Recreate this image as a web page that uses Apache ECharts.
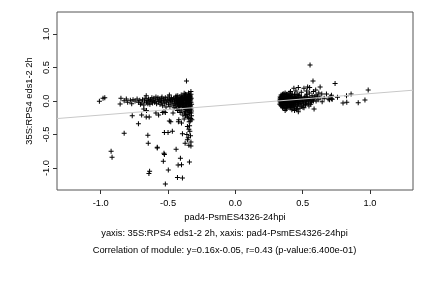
<!DOCTYPE html>
<html><head><meta charset="utf-8">
<script src="https://cdn.jsdelivr.net/npm/echarts@6/dist/echarts.min.js"></script>
<style>html,body{margin:0;padding:0;background:#fff}#c{width:432px;height:288px}</style>
</head><body><div id="c"></div>
<script>
// x/y pairs
const leftSparse = [[-1.01,-0.005],[-0.983,0.04],[-0.97,0.05],[-0.85,0.04],[-0.856,-0.045],[-0.826,0.005],[-0.81,0.03],[-0.80,-0.02],[-0.78,0.01],[-0.77,-0.04],[-0.766,-0.22],[-0.72,-0.34],[-0.696,-0.21],[-0.662,-0.24],[-0.64,-0.24],[-0.66,-0.14],[-0.68,-0.12],[-0.57,-0.21],[-0.826,-0.48],[-0.65,-0.51],[-0.647,-0.63],[-0.58,-0.69],[-0.923,-0.75],[-0.916,-0.84],[-0.637,-1.05],[-0.642,-1.08],[-0.527,-0.80],[-0.535,-0.90],[-0.498,-1.03],[-0.52,-1.24],[-0.43,-1.14],[-0.393,-1.15],[-0.527,-0.47],[-0.50,-0.47],[-0.468,-0.45],[-0.49,-0.30],[-0.44,-0.72],[-0.408,-0.855],[-0.425,-0.955],[-0.40,-0.95],[-0.341,-0.91],[-0.393,-0.49],[-0.338,-0.45],[-0.33,-0.61],[-0.373,-0.63],[-0.356,-0.58],[-0.33,-0.67],[-0.345,-0.66],[-0.423,-0.31],[-0.40,-0.33],[-0.38,-0.27],[-0.343,-0.31],[-0.323,-0.28],[-0.356,-0.38],[-0.345,-0.42],[-0.37,-0.22],[-0.463,-0.18],[-0.54,-0.17],[-0.52,-0.17],[-0.363,0.30],[-0.662,0.08],[-0.33,0.14],[-0.38,0.115],[-0.49,0.09],[-0.44,0.075],[-0.59,-0.18],[-0.53,-0.16],[-0.48,-0.31],[-0.42,-0.28],[-0.34,-0.37],[-0.36,-0.5],[-0.35,-0.55],[-0.333,-0.52],[-0.53,-0.78],[-0.58,-0.70]];
const leftDense = [[-0.76,0.02],[-0.745,0.0],[-0.73,0.03],[-0.72,-0.02],[-0.71,0.01],[-0.705,-0.05],[-0.695,-0.03],[-0.69,0.02],[-0.68,-0.06],[-0.675,0.0],[-0.67,0.04],[-0.66,-0.02],[-0.655,0.01],[-0.65,-0.04],[-0.645,0.03],[-0.64,0.0],[-0.635,-0.05],[-0.63,0.02],[-0.625,-0.01],[-0.62,0.05],[-0.615,-0.03],[-0.61,0.01],[-0.605,0.04],[-0.60,-0.02],[-0.595,0.0],[-0.59,0.06],[-0.585,-0.04],[-0.58,0.02],[-0.575,0.05],[-0.57,-0.01],[-0.565,0.03],[-0.56,-0.05],[-0.555,0.0],[-0.55,0.04],[-0.548,-0.02],[-0.545,0.06],[-0.54,-0.07],[-0.535,0.01],[-0.53,0.03],[-0.528,-0.04],[-0.522,0.0],[-0.52,0.05],[-0.515,-0.09],[-0.51,-0.02],[-0.506,0.02],[-0.50,0.06],[-0.497,-0.05],[-0.493,0.0],[-0.49,0.03],[-0.486,-0.08],[-0.482,0.01],[-0.478,-0.03],[-0.475,0.05],[-0.47,-0.01],[-0.466,0.02],[-0.462,-0.06],[-0.458,0.04],[-0.455,-0.1],[-0.452,0.0],[-0.45,-0.04],[-0.448,0.03],[-0.446,-0.07],[-0.443,0.06],[-0.44,-0.02],[-0.438,-0.11],[-0.435,0.01],[-0.432,0.05],[-0.43,-0.05],[-0.428,0.08],[-0.425,-0.01],[-0.422,-0.09],[-0.42,0.03],[-0.418,-0.13],[-0.415,0.0],[-0.412,0.06],[-0.41,-0.04],[-0.408,0.02],[-0.405,-0.07],[-0.402,0.09],[-0.40,-0.01],[-0.398,-0.15],[-0.395,0.04],[-0.393,-0.03],[-0.39,0.07],[-0.388,-0.1],[-0.385,0.0],[-0.383,-0.06],[-0.38,0.03],[-0.378,-0.18],[-0.376,0.05],[-0.374,-0.02],[-0.372,-0.12],[-0.37,0.1],[-0.368,0.01],[-0.366,-0.08],[-0.364,0.04],[-0.362,-0.04],[-0.36,-0.2],[-0.358,0.07],[-0.356,-0.01],[-0.354,-0.14],[-0.352,0.02],[-0.35,-0.06],[-0.348,0.12],[-0.346,0.0],[-0.344,-0.1],[-0.342,0.05],[-0.34,-0.03],[-0.338,-0.17],[-0.336,0.08],[-0.334,-0.07],[-0.332,0.02],[-0.33,-0.12],[-0.328,0.04],[-0.326,-0.22],[-0.325,-0.05],[-0.347,-0.25],[-0.335,-0.3],[-0.355,-0.24],[-0.342,-0.19],[-0.37,-0.16],[-0.39,-0.21],[-0.41,-0.17],[-0.43,-0.14],[-0.36,0.09],[-0.35,0.05],[-0.34,0.07],[-0.33,0.1],[-0.39,0.02],[-0.40,0.05],[-0.42,-0.06],[-0.44,0.0],[-0.365,-0.03],[-0.355,0.03],[-0.345,-0.02],[-0.335,0.0],[-0.375,0.01],[-0.385,-0.03],[-0.395,-0.05],[-0.405,0.0],[-0.415,-0.08]];
const leftCore = [[-0.33,-0.02],[-0.332,-0.09],[-0.336,0.04],[-0.339,-0.05],[-0.343,0.01],[-0.347,-0.08],[-0.351,0.06],[-0.353,-0.03],[-0.357,-0.11],[-0.361,0.02],[-0.363,-0.07],[-0.367,0.05],[-0.371,-0.05],[-0.373,0.03],[-0.377,-0.1],[-0.381,0.06],[-0.384,-0.04],[-0.387,0.01],[-0.391,-0.08],[-0.394,0.03],[-0.397,-0.02],[-0.401,0.02],[-0.404,-0.05],[-0.409,0.04],[-0.413,-0.02],[-0.417,0.02],[-0.421,-0.04],[-0.427,0.01],[-0.433,-0.03],[-0.437,0.03],[-0.327,-0.15],[-0.329,-0.18],[-0.331,-0.26],[-0.333,0.06],[-0.337,-0.13],[-0.341,0.09],[-0.349,-0.15],[-0.359,-0.13],[-0.369,-0.12],[-0.379,0.08]];
const rightSparse = [[0.555,0.537],[0.577,0.30],[0.741,0.26],[0.987,0.165],[0.963,0.015],[0.913,-0.025],[0.86,0.105],[0.828,-0.02],[0.80,-0.03],[0.826,0.08],[0.759,0.055],[0.709,0.065],[0.677,0.105],[0.714,0.085],[0.642,0.105],[0.63,0.21],[0.597,0.165],[0.537,0.21],[0.552,0.20],[0.51,0.19],[0.468,0.20],[0.435,0.19],[0.468,-0.16],[0.502,-0.095],[0.547,-0.075],[0.585,-0.12],[0.60,0.09],[0.62,0.12],[0.58,0.14],[0.53,0.15],[0.49,0.13],[0.45,0.15],[0.41,0.14],[0.69,0.03],[0.70,0.02],[0.715,0.035],[0.72,0.025],[0.66,0.04],[0.44,-0.12],[0.42,-0.1],[0.40,-0.09],[0.48,-0.11],[0.52,-0.06]];
const rightDense = [[0.33,0.0],[0.332,0.03],[0.334,-0.03],[0.336,0.05],[0.338,-0.06],[0.34,0.01],[0.342,0.07],[0.344,-0.02],[0.346,0.04],[0.348,-0.08],[0.35,0.0],[0.352,0.02],[0.354,-0.05],[0.356,0.06],[0.358,-0.01],[0.36,0.03],[0.362,-0.04],[0.364,0.09],[0.366,0.01],[0.368,-0.07],[0.37,0.04],[0.372,-0.02],[0.374,0.0],[0.376,0.06],[0.378,-0.09],[0.38,0.02],[0.382,-0.03],[0.384,0.05],[0.386,0.0],[0.388,-0.06],[0.39,0.03],[0.393,0.08],[0.396,-0.01],[0.399,0.04],[0.402,-0.04],[0.405,0.02],[0.408,-0.1],[0.411,0.06],[0.414,0.0],[0.417,-0.05],[0.42,0.03],[0.423,0.1],[0.426,-0.02],[0.43,0.05],[0.434,-0.07],[0.438,0.01],[0.442,0.07],[0.446,-0.03],[0.45,0.03],[0.455,-0.12],[0.46,0.0],[0.465,0.05],[0.47,-0.05],[0.475,0.09],[0.48,0.02],[0.486,-0.04],[0.492,0.06],[0.498,0.0],[0.504,-0.06],[0.51,0.04],[0.517,0.01],[0.524,0.07],[0.53,-0.03],[0.538,0.03],[0.546,0.0],[0.555,0.05],[0.565,-0.02],[0.575,0.02],[0.585,0.04],[0.60,0.0],[0.615,0.02],[0.63,0.05],[0.645,-0.01],[0.335,0.02],[0.345,-0.04],[0.355,0.03],[0.365,-0.02],[0.375,0.02],[0.385,-0.01],[0.395,0.01],[0.405,0.05],[0.415,-0.02],[0.425,0.02],[0.435,-0.01],[0.445,0.0],[0.34,-0.01],[0.36,0.0],[0.38,0.0],[0.4,0.0],[0.42,0.0],[0.44,0.02],[0.46,-0.02],[0.48,0.0],[0.5,0.02],[0.52,-0.01],[0.54,0.02],[0.56,0.0],[0.58,0.0],[0.35,-0.02],[0.37,0.01],[0.39,-0.03],[0.41,0.02],[0.43,-0.04],[0.45,0.06],[0.47,0.08],[0.49,-0.08],[0.51,-0.1],[0.53,0.1],[0.55,0.12],[0.57,0.08],[0.59,0.06],[0.61,0.07],[0.44,-0.14],[0.38,-0.12],[0.36,-0.1],[0.35,0.1],[0.37,0.12],[0.39,0.1],[0.4,0.12]];
const rightCore = [[0.331,-0.05],[0.333,0.06],[0.337,-0.01],[0.339,0.03],[0.341,-0.07],[0.343,0.05],[0.347,0.0],[0.349,-0.04],[0.351,0.08],[0.353,-0.01],[0.357,0.04],[0.359,-0.06],[0.361,0.06],[0.363,-0.03],[0.367,0.02],[0.369,-0.05],[0.371,0.07],[0.373,-0.01],[0.377,0.03],[0.379,-0.04],[0.381,0.05],[0.383,-0.07],[0.387,0.02],[0.389,0.06],[0.391,-0.05],[0.394,0.0],[0.397,0.06],[0.401,-0.02],[0.404,0.03],[0.407,-0.06],[0.41,0.04],[0.413,-0.03],[0.416,0.07],[0.419,0.01],[0.422,-0.06],[0.427,0.04],[0.431,-0.02],[0.436,0.03],[0.441,-0.05],[0.447,0.05],[0.452,-0.02],[0.457,0.04],[0.463,-0.07],[0.468,0.02],[0.474,-0.03],[0.483,0.05],[0.489,-0.01],[0.495,0.03],[0.507,-0.03],[0.514,0.05],[0.521,-0.05],[0.527,0.02],[0.534,0.06],[0.542,-0.04],[0.55,0.03],[0.56,-0.05],[0.57,0.05],[0.34,0.09],[0.35,-0.1],[0.36,0.11],[0.37,-0.11],[0.38,0.1],[0.39,-0.09],[0.40,0.08],[0.41,-0.08],[0.42,0.09],[0.43,-0.09],[0.44,0.1],[0.45,-0.08],[0.46,0.1],[0.37,-0.14],[0.42,-0.13],[0.46,-0.12]];
const xTicks = [-1.0, -0.5, 0.0, 0.5, 1.0];
const yTicks = [-1.0, -0.5, 0.0, 0.5, 1.0];
const xRange = [-1.325, 1.32];
const yRange = [-1.328, 1.328];
const fitSlope = 0.16, fitIntercept = -0.05;
const xTitle = 'pad4-PsmES4326-24hpi';
const yTitle = '35S:RPS4 eds1-2 2h';
const caption1 = 'yaxis: 35S:RPS4 eds1-2 2h, xaxis: pad4-PsmES4326-24hpi';
const caption2 = 'Correlation of module: y=0.16x-0.05, r=0.43 (p-value:6.400e-01)';

const FONT = 'Liberation Sans';
const plus = 'path://M2,0H3V2H5V3H3V5H2V3H0V2H2Z';
const chart = echarts.init(document.getElementById('c'), null, {renderer: 'canvas'});
const pts = leftSparse.concat(leftDense, leftCore, rightSparse, rightDense, rightCore);
chart.setOption({
  animation: false,
  grid: {left: 57, right: 19, top: 12, bottom: 98, show: true, borderColor: '#555', borderWidth: 1, backgroundColor: 'transparent'},
  xAxis: {
    type: 'value', min: xRange[0], max: xRange[1],
    axisLine: {show: false, onZero: false}, splitLine: {show: false},
    axisTick: {show: true, length: 4, lineStyle: {color: '#333'}, customValues: xTicks},
    axisLabel: {customValues: xTicks, formatter: v => v.toFixed(1), fontFamily: FONT, fontSize: 9.3, color: '#000', margin: 9},
    name: xTitle, nameLocation: 'middle', nameGap: 23,
    nameTextStyle: {fontFamily: FONT, fontSize: 9.3, color: '#000'}
  },
  yAxis: {
    type: 'value', min: yRange[0], max: yRange[1],
    axisLine: {show: false, onZero: false}, splitLine: {show: false},
    axisTick: {show: true, length: 4, lineStyle: {color: '#333'}, customValues: yTicks},
    axisLabel: {customValues: yTicks, formatter: v => v.toFixed(1), fontFamily: FONT, fontSize: 9.3, color: '#000', margin: 6, rotate: 90},
    name: yTitle, nameLocation: 'middle', nameGap: 22,
    nameTextStyle: {fontFamily: FONT, fontSize: 9.3, color: '#000'}
  },
  graphic: [
    {type: 'text', x: 224.5, y: 233, style: {text: caption1, fontFamily: FONT, fontSize: 9.3, fill: '#000', align: 'center', verticalAlign: 'middle'}},
    {type: 'text', x: 224.5, y: 250, style: {text: caption2, fontFamily: FONT, fontSize: 9.3, fill: '#000', align: 'center', verticalAlign: 'middle'}}
  ],
  series: [
    {type: 'scatter', data: pts, symbol: plus, symbolSize: 5, itemStyle: {color: '#000', opacity: 1}, z: 2},
    {type: 'line', data: [[xRange[0], fitSlope * xRange[0] + fitIntercept], [xRange[1], fitSlope * xRange[1] + fitIntercept]],
     symbol: 'none', lineStyle: {color: '#c8c8c8', width: 1}, z: 3, silent: true}
  ]
});
</script></body></html>
